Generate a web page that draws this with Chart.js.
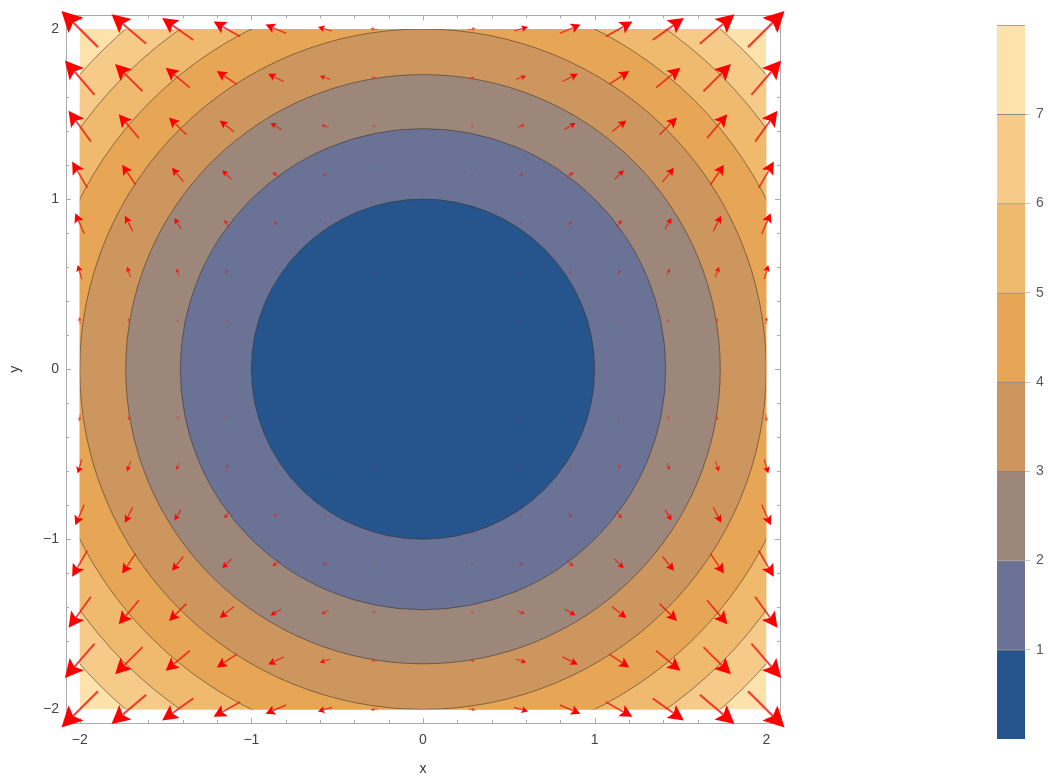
<!DOCTYPE html>
<html>
<head>
<meta charset="utf-8">
<script src="https://cdn.jsdelivr.net/npm/chart.js@4.4.1/dist/chart.umd.min.js"></script>
<style>
  html, body { margin: 0; padding: 0; background: #ffffff; }
  #wrap { position: relative; width: 1056px; height: 778px; overflow: hidden; }
  #main { position: absolute; left: 0; top: 0; width: 800px; height: 778px; }
  #legendBar { position: absolute; left: 960px; top: 0; width: 96px; height: 778px; }
</style>
</head>
<body>
<div id="wrap">
  <canvas id="main" width="800" height="778"></canvas>
  <canvas id="legendBar" width="96" height="778"></canvas>
</div>
<script>
// ---- axis ticks ----
const tickValues = [-2, -1, 0, 1, 2];
const tickLabels = ['\u22122', '\u22121', '0', '1', '2'];
const domain = [-2, 2];

// ---- contour levels of z = x^2 + y^2 and colour bands (0-1, 1-2, ..., 7-8) ----
const levels = [1, 2, 3, 4, 5, 6, 7];
const bandEdges = [0, 1, 2, 3, 4, 5, 6, 7, 8];
const bandColors = ['#26548c', '#6a7396', '#9c877a', '#cc965e', '#e7a655', '#efba6e', '#f6cb89', '#fde2ab'];
const legendTicks = [1, 2, 3, 4, 5, 6, 7];
const legendLabels = ['1', '2', '3', '4', '5', '6', '7'];

// ---- vector field sample grid ----
const gridX = [-2, -1.714, -1.429, -1.143, -0.857, -0.571, -0.286, 0, 0.286, 0.571, 0.857, 1.143, 1.429, 1.714, 2];
const gridY = [-2, -1.714, -1.429, -1.143, -0.857, -0.571, -0.286, 0, 0.286, 0.571, 0.857, 1.143, 1.429, 1.714, 2];

// x-components, one row per gridY value (bottom to top), one column per gridX value
const fieldU = [
  [-8, -6.86, -5.71, -4.57, -3.43, -2.29, -1.14, 0, 1.14, 2.29, 3.43, 4.57, 5.71, 6.86, 8],
  [-5.88, -5.04, -4.2, -3.36, -2.52, -1.68, -0.84, 0, 0.84, 1.68, 2.52, 3.36, 4.2, 5.04, 5.88],
  [-4.08, -3.5, -2.92, -2.33, -1.75, -1.17, -0.58, 0, 0.58, 1.17, 1.75, 2.33, 2.92, 3.5, 4.08],
  [-2.61, -2.24, -1.87, -1.49, -1.12, -0.75, -0.37, 0, 0.37, 0.75, 1.12, 1.49, 1.87, 2.24, 2.61],
  [-1.47, -1.26, -1.05, -0.84, -0.63, -0.42, -0.21, 0, 0.21, 0.42, 0.63, 0.84, 1.05, 1.26, 1.47],
  [-0.65, -0.56, -0.47, -0.37, -0.28, -0.19, -0.09, 0, 0.09, 0.19, 0.28, 0.37, 0.47, 0.56, 0.65],
  [-0.16, -0.14, -0.12, -0.09, -0.07, -0.05, -0.02, 0, 0.02, 0.05, 0.07, 0.09, 0.12, 0.14, 0.16],
  [0, 0, 0, 0, 0, 0, 0, 0, 0, 0, 0, 0, 0, 0, 0],
  [-0.16, -0.14, -0.12, -0.09, -0.07, -0.05, -0.02, 0, 0.02, 0.05, 0.07, 0.09, 0.12, 0.14, 0.16],
  [-0.65, -0.56, -0.47, -0.37, -0.28, -0.19, -0.09, 0, 0.09, 0.19, 0.28, 0.37, 0.47, 0.56, 0.65],
  [-1.47, -1.26, -1.05, -0.84, -0.63, -0.42, -0.21, 0, 0.21, 0.42, 0.63, 0.84, 1.05, 1.26, 1.47],
  [-2.61, -2.24, -1.87, -1.49, -1.12, -0.75, -0.37, 0, 0.37, 0.75, 1.12, 1.49, 1.87, 2.24, 2.61],
  [-4.08, -3.5, -2.92, -2.33, -1.75, -1.17, -0.58, 0, 0.58, 1.17, 1.75, 2.33, 2.92, 3.5, 4.08],
  [-5.88, -5.04, -4.2, -3.36, -2.52, -1.68, -0.84, 0, 0.84, 1.68, 2.52, 3.36, 4.2, 5.04, 5.88],
  [-8, -6.86, -5.71, -4.57, -3.43, -2.29, -1.14, 0, 1.14, 2.29, 3.43, 4.57, 5.71, 6.86, 8]
];

// y-components, same layout
const fieldV = [
  [-8, -5.88, -4.08, -2.61, -1.47, -0.65, -0.16, 0, -0.16, -0.65, -1.47, -2.61, -4.08, -5.88, -8],
  [-6.86, -5.04, -3.5, -2.24, -1.26, -0.56, -0.14, 0, -0.14, -0.56, -1.26, -2.24, -3.5, -5.04, -6.86],
  [-5.71, -4.2, -2.92, -1.87, -1.05, -0.47, -0.12, 0, -0.12, -0.47, -1.05, -1.87, -2.92, -4.2, -5.71],
  [-4.57, -3.36, -2.33, -1.49, -0.84, -0.37, -0.09, 0, -0.09, -0.37, -0.84, -1.49, -2.33, -3.36, -4.57],
  [-3.43, -2.52, -1.75, -1.12, -0.63, -0.28, -0.07, 0, -0.07, -0.28, -0.63, -1.12, -1.75, -2.52, -3.43],
  [-2.29, -1.68, -1.17, -0.75, -0.42, -0.19, -0.05, 0, -0.05, -0.19, -0.42, -0.75, -1.17, -1.68, -2.29],
  [-1.14, -0.84, -0.58, -0.37, -0.21, -0.09, -0.02, 0, -0.02, -0.09, -0.21, -0.37, -0.58, -0.84, -1.14],
  [0, 0, 0, 0, 0, 0, 0, 0, 0, 0, 0, 0, 0, 0, 0],
  [1.14, 0.84, 0.58, 0.37, 0.21, 0.09, 0.02, 0, 0.02, 0.09, 0.21, 0.37, 0.58, 0.84, 1.14],
  [2.29, 1.68, 1.17, 0.75, 0.42, 0.19, 0.05, 0, 0.05, 0.19, 0.42, 0.75, 1.17, 1.68, 2.29],
  [3.43, 2.52, 1.75, 1.12, 0.63, 0.28, 0.07, 0, 0.07, 0.28, 0.63, 1.12, 1.75, 2.52, 3.43],
  [4.57, 3.36, 2.33, 1.49, 0.84, 0.37, 0.09, 0, 0.09, 0.37, 0.84, 1.49, 2.33, 3.36, 4.57],
  [5.71, 4.2, 2.92, 1.87, 1.05, 0.47, 0.12, 0, 0.12, 0.47, 1.05, 1.87, 2.92, 4.2, 5.71],
  [6.86, 5.04, 3.5, 2.24, 1.26, 0.56, 0.14, 0, 0.14, 0.56, 1.26, 2.24, 3.5, 5.04, 6.86],
  [8, 5.88, 4.08, 2.61, 1.47, 0.65, 0.16, 0, 0.16, 0.65, 1.47, 2.61, 4.08, 5.88, 8]
];

// ---- build the scatter points carrying each arrow ----
const arrowPoints = [];
gridY.forEach((yv, j) => {
  gridX.forEach((xv, i) => {
    arrowPoints.push({ x: xv, y: yv, u: fieldU[j][i], v: fieldV[j][i] });
  });
});

const FONT = '"Liberation Sans", Arial, Helvetica, sans-serif';
const FRAME_COLOR = '#ababab';

// filled circular contour bands, clipped to the sampled domain
const contourPlugin = {
  id: 'contourBands',
  beforeDatasetsDraw(chart) {
    const { ctx, scales: { x, y } } = chart;
    const left = x.getPixelForValue(domain[0]);
    const right = x.getPixelForValue(domain[1]);
    const top = y.getPixelForValue(domain[1]);
    const bottom = y.getPixelForValue(domain[0]);
    const cx = x.getPixelForValue(0);
    const cy = y.getPixelForValue(0);
    ctx.save();
    ctx.beginPath();
    ctx.rect(left, top, right - left, bottom - top);
    ctx.clip();
    ctx.fillStyle = bandColors[bandColors.length - 1];
    ctx.fillRect(left, top, right - left, bottom - top);
    for (let k = levels.length - 1; k >= 0; k--) {
      const r = Math.sqrt(levels[k]);
      const rx = x.getPixelForValue(r) - cx;
      const ry = cy - y.getPixelForValue(r);
      ctx.beginPath();
      ctx.ellipse(cx, cy, rx, ry, 0, 0, Math.PI * 2);
      ctx.fillStyle = bandColors[k];
      ctx.fill();
      ctx.lineWidth = 1;
      ctx.strokeStyle = 'rgba(60, 48, 36, 0.55)';
      ctx.stroke();
    }
    ctx.restore();
  }
};

// frame with inward ticks on all four sides, then the arrows on top
const framePlugin = {
  id: 'frameAndArrows',
  afterDatasetsDraw(chart) {
    const { ctx, chartArea: a, scales: { x, y } } = chart;
    ctx.save();
    ctx.strokeStyle = FRAME_COLOR;
    ctx.lineWidth = 1;
    ctx.strokeRect(Math.round(a.left) + 0.5, Math.round(a.top) + 0.5,
                   Math.round(a.right - a.left), Math.round(a.bottom - a.top));
    ctx.beginPath();
    for (let i = -10; i <= 10; i++) {
      const t = i / 5;
      const len = (i % 5 === 0) ? 5 : 3;
      const px = Math.round(x.getPixelForValue(t)) + 0.5;
      const py = Math.round(y.getPixelForValue(t)) + 0.5;
      ctx.moveTo(px, a.bottom); ctx.lineTo(px, a.bottom - len);
      ctx.moveTo(px, a.top); ctx.lineTo(px, a.top + len);
      ctx.moveTo(a.left, py); ctx.lineTo(a.left + len, py);
      ctx.moveTo(a.right, py); ctx.lineTo(a.right - len, py);
    }
    ctx.stroke();

    // arrows centred on their sample points
    const meta = chart.getDatasetMeta(0);
    const data = chart.data.datasets[0].data;
    const ux = x.getPixelForValue(1) - x.getPixelForValue(0);
    const uy = y.getPixelForValue(0) - y.getPixelForValue(1);
    meta.data.forEach((el, i) => {
      const d = data[i];
      const mag = Math.hypot(d.u, d.v);
      if (mag < 1e-6) return;
      const L = 64 * Math.tanh(mag / 10.2);
      if (L < 0.6) return;
      let dx = d.u * ux, dy = -d.v * uy;
      const n = Math.hypot(dx, dy);
      dx /= n; dy /= n;
      const cx = el.x, cy = el.y;
      const sx = cx - dx * L / 2, sy = cy - dy * L / 2;
      const tx = cx + dx * L / 2, ty = cy + dy * L / 2;
      const hl = 0.38 * L + 1;
      const hw = 0.52 * hl;
      const bx = tx - dx * hl, by = ty - dy * hl;
      const nx = tx - dx * hl * 0.8, ny = ty - dy * hl * 0.8;
      const alpha = Math.min(1, 0.35 + L / 20);
      ctx.strokeStyle = 'rgba(238, 24, 12, ' + (alpha * 0.8).toFixed(3) + ')';
      ctx.lineWidth = 0.9 + L / 38;
      ctx.beginPath();
      ctx.moveTo(sx, sy);
      ctx.lineTo(nx, ny);
      ctx.stroke();
      ctx.fillStyle = 'rgba(255, 0, 0, ' + alpha.toFixed(3) + ')';
      ctx.beginPath();
      ctx.moveTo(tx, ty);
      ctx.lineTo(bx - dy * hw, by + dx * hw);
      ctx.lineTo(nx, ny);
      ctx.lineTo(bx + dy * hw, by - dx * hw);
      ctx.closePath();
      ctx.fill();
    });
    ctx.restore();
  }
};

const axisTicks = (padding) => ({
  padding: padding,
  color: '#444444',
  autoSkip: false,
  maxRotation: 0,
  font: { family: FONT, size: 14 },
  callback: (value) => {
    const idx = tickValues.indexOf(value);
    return idx >= 0 ? tickLabels[idx] : '';
  }
});

new Chart(document.getElementById('main'), {
  type: 'scatter',
  data: {
    datasets: [{
      data: arrowPoints,
      pointRadius: 0,
      pointHoverRadius: 0,
      showLine: false
    }]
  },
  options: {
    responsive: false,
    animation: false,
    events: [],
    layout: { padding: { left: 0, top: 10, right: 20, bottom: 0 } },
    plugins: { legend: { display: false }, tooltip: { enabled: false } },
    scales: {
      x: {
        type: 'linear',
        min: -2.08,
        max: 2.08,
        afterBuildTicks: (s) => { s.ticks = tickValues.map(v => ({ value: v })); },
        afterFit: (s) => { s.height = 55; },
        grid: { display: false, drawTicks: false },
        border: { display: false },
        ticks: axisTicks(9),
        title: { display: true, text: 'x', color: '#333333', font: { family: FONT, size: 14 }, padding: { top: 0, bottom: 0 } }
      },
      y: {
        type: 'linear',
        min: -2.08,
        max: 2.08,
        afterBuildTicks: (s) => { s.ticks = tickValues.map(v => ({ value: v })); },
        afterFit: (s) => { s.width = 66; },
        grid: { display: false, drawTicks: false },
        border: { display: false },
        ticks: axisTicks(7),
        title: { display: true, text: 'y', color: '#333333', font: { family: FONT, size: 14 }, padding: { top: 7, bottom: 0 } }
      }
    }
  },
  plugins: [contourPlugin, framePlugin]
});

// ---- colour legend: one floating bar segment per band ----
new Chart(document.getElementById('legendBar'), {
  type: 'bar',
  data: {
    labels: [''],
    datasets: bandColors.map((c, i) => ({
      data: [[bandEdges[i], bandEdges[i + 1]]],
      backgroundColor: c,
      borderColor: 'rgba(70, 58, 46, 0.6)',
      borderWidth: { top: 1, right: 0, bottom: 0, left: 0 },
      borderSkipped: false,
      barPercentage: 1,
      categoryPercentage: 1,
      grouped: false
    }))
  },
  options: {
    responsive: false,
    animation: false,
    events: [],
    layout: { padding: { left: 37, top: 25, right: 0, bottom: 39 } },
    plugins: { legend: { display: false }, tooltip: { enabled: false } },
    scales: {
      x: { display: false },
      y: {
        position: 'right',
        min: bandEdges[0],
        max: bandEdges[bandEdges.length - 1],
        afterBuildTicks: (s) => { s.ticks = legendTicks.map(v => ({ value: v })); },
        afterFit: (s) => { s.width = 31; },
        grid: { drawOnChartArea: false, drawTicks: true, tickLength: 5, color: '#c4c4c4' },
        border: { display: false },
        ticks: {
          padding: 6,
          color: '#5a5a5a',
          font: { family: FONT, size: 14 },
          callback: (value) => {
            const idx = legendTicks.indexOf(value);
            return idx >= 0 ? legendLabels[idx] : '';
          }
        }
      }
    }
  }
});
</script>
</body>
</html>
